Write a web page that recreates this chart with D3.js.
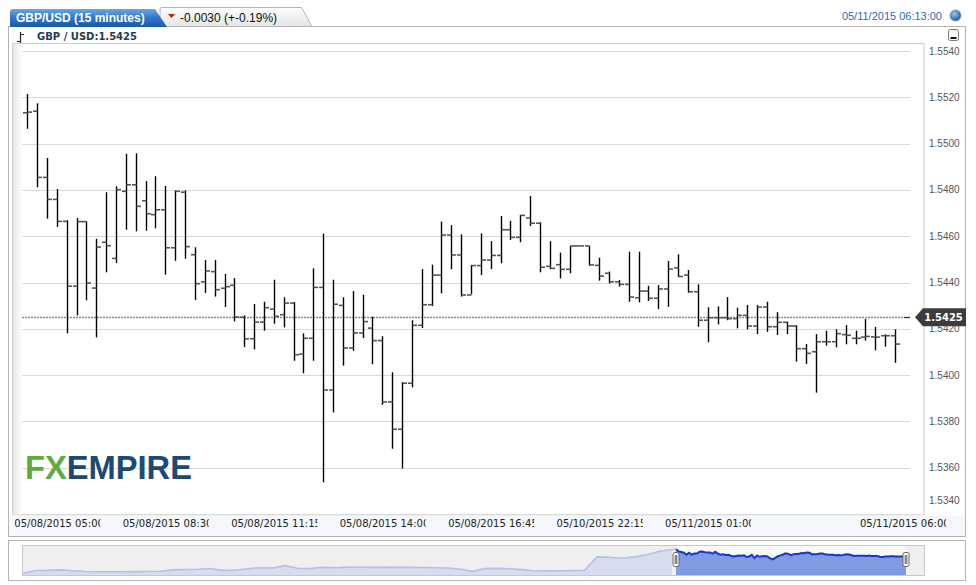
<!DOCTYPE html>
<html><head><meta charset="utf-8">
<script src="https://cdn.jsdelivr.net/npm/d3@7"></script>
<style>html,body{margin:0;padding:0;background:#fff;}svg{display:block;}</style>
</head><body>
<svg id="chart" width="976" height="585"></svg>
<script>
// ---------- data ----------
const symbolTitle = "GBP/USD (15 minutes)";
const changeText = "-0.0030 (+-0.19%)";
const dateText = "05/11/2015 06:13:00";
const seriesLabel = "GBP / USD:1.5425";
const lastPrice = 1.5425;

const opens = [1.55133,1.55140,1.54854,1.54759,1.54664,1.54384,1.54663,1.54376,1.54574,1.54504,
1.54794,1.54822,1.54753,1.54693,1.54714,1.54550,1.54790,1.54520,1.54403,1.54447,
1.54375,1.54388,1.54250,1.54157,1.54229,1.54285,1.54261,1.54311,1.54091,1.54159,
1.54379,1.53936,1.54301,1.54117,1.54182,1.54203,1.54149,1.53884,1.53766,1.53965,
1.54215,1.54304,1.54432,1.54605,1.54519,1.54346,1.54473,1.54497,1.54517,1.54628,
1.54595,1.54679,1.54656,1.54470,1.54477,1.54457,1.54558,1.54558,1.54474,1.54440,
1.54403,1.54392,1.54334,1.54363,1.54332,1.54372,1.54463,1.54432,1.54360,1.54237,
1.54248,1.54248,1.54244,1.54258,1.54212,1.54294,1.54209,1.54228,1.54212,1.54114,
1.54101,1.54144,1.54144,1.54175,1.54159,1.54164,1.54165,1.54170,1.54170];
const highs = [1.55214,1.55174,1.54938,1.54804,1.54669,1.54679,1.54664,1.54589,1.54790,1.54816,
1.54956,1.54958,1.54838,1.54859,1.54817,1.54798,1.54798,1.54552,1.54497,1.54497,
1.54437,1.54419,1.54258,1.54307,1.54317,1.54412,1.54336,1.54316,1.54180,1.54461,
1.54611,1.54412,1.54336,1.54363,1.54347,1.54252,1.54168,1.54012,1.53970,1.54237,
1.54458,1.54477,1.54663,1.54648,1.54608,1.54476,1.54612,1.54579,1.54687,1.54667,
1.54692,1.54774,1.54660,1.54578,1.54529,1.54558,1.54558,1.54558,1.54507,1.54447,
1.54411,1.54533,1.54533,1.54386,1.54389,1.54493,1.54522,1.54454,1.54392,1.54293,
1.54297,1.54337,1.54291,1.54303,1.54303,1.54317,1.54272,1.54231,1.54215,1.54134,
1.54177,1.54192,1.54198,1.54216,1.54192,1.54242,1.54208,1.54176,1.54198];
const lows = [1.55064,1.54811,1.54676,1.54640,1.54180,1.54258,1.54323,1.54163,1.54444,1.54484,
1.54628,1.54621,1.54624,1.54634,1.54434,1.54494,1.54503,1.54324,1.54355,1.54339,
1.54294,1.54232,1.54121,1.54111,1.54192,1.54222,1.54206,1.54062,1.54008,1.54062,
1.53537,1.53839,1.54041,1.54105,1.54160,1.54047,1.53872,1.53682,1.53597,1.53947,
1.54203,1.54298,1.54353,1.54457,1.54339,1.54349,1.54432,1.54458,1.54483,1.54584,
1.54574,1.54644,1.54444,1.54458,1.54418,1.54440,1.54558,1.54473,1.54408,1.54396,
1.54382,1.54317,1.54314,1.54320,1.54285,1.54295,1.54424,1.54356,1.54209,1.54142,
1.54219,1.54237,1.54202,1.54198,1.54177,1.54187,1.54173,1.54177,1.54058,1.54048,
1.53924,1.54127,1.54120,1.54133,1.54133,1.54149,1.54107,1.54123,1.54053];
const closes = [1.55136,1.54854,1.54759,1.54664,1.54384,1.54663,1.54398,1.54553,1.54559,1.54801,
1.54822,1.54729,1.54697,1.54714,1.54550,1.54794,1.54555,1.54395,1.54450,1.54369,
1.54382,1.54251,1.54157,1.54229,1.54291,1.54254,1.54311,1.54088,1.54159,1.54379,
1.53936,1.54306,1.54117,1.54182,1.54231,1.54149,1.53884,1.53766,1.53965,1.54215,
1.54304,1.54432,1.54605,1.54519,1.54346,1.54473,1.54497,1.54517,1.54628,1.54595,
1.54690,1.54656,1.54466,1.54461,1.54457,1.54558,1.54558,1.54476,1.54428,1.54403,
1.54392,1.54337,1.54363,1.54332,1.54372,1.54458,1.54426,1.54360,1.54237,1.54248,
1.54248,1.54244,1.54258,1.54212,1.54294,1.54209,1.54228,1.54212,1.54114,1.54094,
1.54144,1.54144,1.54179,1.54172,1.54159,1.54167,1.54164,1.54170,1.54134];

const yTicks = [1.5340,1.5360,1.5380,1.5400,1.5420,1.5440,1.5460,1.5480,1.5500,1.5520,1.5540];
const xTickIndex = [0,11,22,33,44,55,66,88];
const xTickLabels = ["05/08/2015 05:00","05/08/2015 08:30","05/08/2015 11:15","05/08/2015 14:00",
  "05/08/2015 16:45","05/10/2015 22:15","05/11/2015 01:00","05/11/2015 06:00"];

// navigator history (older closes, before the visible window)
const navHistory = [1.5185,1.5224,1.5226,1.5232,1.5220,1.5210,1.5207,1.5206,1.5207,1.5208,
1.5210,1.5214,1.5232,1.5238,1.5240,1.5250,1.5226,1.5228,1.5248,1.5262,
1.5258,1.5290,1.5255,1.5250,1.5266,1.5262,1.5270,1.5268,1.5266,1.5270,
1.5267,1.5266,1.5264,1.5262,1.5258,1.5245,1.5212,1.5250,1.5253,1.5248,
1.5236,1.5217,1.5218,1.5220,1.5222,1.5226,1.5410,1.5405,1.5392,1.5410,
1.5440,1.5488,1.5512];

const bars = opens.map((o,i)=>({i, o, h:highs[i], l:lows[i], c:closes[i]}));

// ---------- layout ----------
const svg = d3.select("#chart");
const plot = {left:12.5, right:924, top:43.5, bottom:515};
const x = d3.scaleLinear().domain([0, opens.length-1]).range([27.3, 895]);
const y = d3.scaleLinear().domain([1.5340, 1.5540]).range([514, 51]);
const px = v => Math.round(v) + 0.5;

const defs = svg.append("defs");
const g1 = defs.append("linearGradient").attr("id","tabBlue").attr("x1",0).attr("y1",0).attr("x2",0).attr("y2",1);
g1.append("stop").attr("offset","0%").attr("stop-color","#6ba6e6");
g1.append("stop").attr("offset","50%").attr("stop-color","#2f76c8");
g1.append("stop").attr("offset","100%").attr("stop-color","#1a5aa8");
const g2 = defs.append("linearGradient").attr("id","tabGray").attr("x1",0).attr("y1",0).attr("x2",0).attr("y2",1);
g2.append("stop").attr("offset","0%").attr("stop-color","#fdfdfd");
g2.append("stop").attr("offset","100%").attr("stop-color","#e4e4e4");
const g3 = defs.append("linearGradient").attr("id","leftStrip").attr("x1",0).attr("y1",0).attr("x2",1).attr("y2",0);
g3.append("stop").attr("offset","0%").attr("stop-color","#e8e8e8");
g3.append("stop").attr("offset","100%").attr("stop-color","#fbfbfb");
const g4 = defs.append("radialGradient").attr("id","ball").attr("cx","40%").attr("cy","35%").attr("r","60%");
g4.append("stop").attr("offset","0%").attr("stop-color","#9cc8f5");
g4.append("stop").attr("offset","100%").attr("stop-color","#1c5fb3");
defs.append("clipPath").attr("id","plotClip").append("rect")
  .attr("x",13).attr("y",44).attr("width",910).attr("height",471);

// outer frame
svg.append("rect").attr("x",8.5).attr("y",26.5).attr("width",957).attr("height",510)
  .attr("fill","#fff").attr("stroke","#b4b4b4");

// tabs
svg.append("path").attr("d","M160,26.5 L160,9 Q160,7.5 162,7.5 L301.5,7.5 L312,26.5 Z")
  .attr("fill","url(#tabGray)").attr("stroke","#b4b4b4");
svg.append("path").attr("d","M10,27 L10,12 Q10,9 13,9 L155,9 L167,27 Z").attr("fill","url(#tabBlue)");
svg.append("text").attr("x",16).attr("y",22).attr("fill","#fff").attr("font-family","Liberation Sans, Arial, sans-serif")
  .attr("font-size",12).attr("font-weight","bold").text(symbolTitle);
svg.append("path").attr("d","M168,14 L175,14 L171.5,18 Z").attr("fill","#d21010");
svg.append("text").attr("x",180).attr("y",22).attr("fill","#111").attr("font-family","Liberation Sans, Arial, sans-serif")
  .attr("font-size",12).text(changeText);

// date + ball
svg.append("text").attr("x",942).attr("y",20).attr("text-anchor","end").attr("fill","#2b6cb8")
  .attr("font-family","Liberation Sans, Arial, sans-serif").attr("font-size",11).text(dateText);
svg.append("circle").attr("cx",955.5).attr("cy",15.5).attr("r",5.5).attr("fill","url(#ball)").attr("stroke","#8a9bb0").attr("stroke-width",1);

// minimize button
svg.append("rect").attr("x",948.5).attr("y",29.5).attr("width",10).attr("height",11).attr("rx",2)
  .attr("fill","#fafafa").attr("stroke","#777");
svg.append("rect").attr("x",950.5).attr("y",37).attr("width",6).attr("height",2).attr("fill","#111");

// series label + icon
svg.append("path").attr("d","M20.5,32 L20.5,43 M17,41.5 L20.5,41.5 M20.5,34.5 L24,34.5").attr("stroke","#222").attr("stroke-width",1.2).attr("fill","none");
svg.append("text").attr("x",37).attr("y",40).attr("fill","#1f3b4d").attr("font-family","DejaVu Sans, Verdana, sans-serif")
  .attr("font-size",10).attr("font-weight","bold").text(seriesLabel);

// plot panel
svg.append("rect").attr("x",plot.left).attr("y",plot.top).attr("width",plot.right-plot.left).attr("height",plot.bottom-plot.top)
  .attr("fill","#fff").attr("stroke","#cdcdcd");
svg.append("rect").attr("x",13).attr("y",44).attr("width",8).attr("height",470).attr("fill","url(#leftStrip)");

// x label band
svg.append("rect").attr("x",9).attr("y",515.5).attr("width",956).attr("height",20).attr("fill","#f4f7fb");

// gridlines
svg.append("g").selectAll("line").data(yTicks).join("line")
  .attr("x1",22).attr("x2",910).attr("y1",d=>px(y(d))).attr("y2",d=>px(y(d)))
  .attr("stroke","#dadada").attr("stroke-width",1);

// y labels
svg.append("g").selectAll("text").data(yTicks).join("text")
  .attr("x",929).attr("y",d=>Math.min(y(d)+3.5, 504))
  .attr("fill","#555").attr("font-family","Liberation Sans, Arial, sans-serif").attr("font-size",10)
  .text(d=>d.toFixed(4));

// logo
const logo = svg.append("text").attr("x",25).attr("y",479).attr("font-family","Liberation Sans, Arial, sans-serif")
  .attr("font-size",33).attr("font-weight","bold").attr("textLength",167).attr("lengthAdjust","spacingAndGlyphs");
logo.append("tspan").attr("fill","#5fab3e").text("FX");
logo.append("tspan").attr("fill","#1d4a72").text("EMPIRE");

// current price dotted line
svg.append("line").attr("x1",22).attr("x2",904).attr("y1",px(y(lastPrice))).attr("y2",px(y(lastPrice)))
  .attr("stroke","#8a8a8a").attr("stroke-width",1.3).attr("stroke-dasharray","2,1");
svg.append("line").attr("x1",904).attr("x2",910).attr("y1",px(y(lastPrice))).attr("y2",px(y(lastPrice)))
  .attr("stroke","#333").attr("stroke-width",1.3);

// OHLC bars
const gb = svg.append("g").attr("clip-path","url(#plotClip)");
gb.selectAll("line.hl").data(bars).join("line").attr("class","hl")
  .attr("x1",d=>px(x(d.i))).attr("x2",d=>px(x(d.i)))
  .attr("y1",d=>y(d.h)).attr("y2",d=>y(d.l))
  .attr("stroke","#000").attr("stroke-width",1.4);
gb.selectAll("line.op").data(bars).join("line").attr("class","op")
  .attr("x1",d=>px(x(d.i))-4.5).attr("x2",d=>px(x(d.i)))
  .attr("y1",d=>y(d.o)).attr("y2",d=>y(d.o))
  .attr("stroke","#555").attr("stroke-width",1.6);
gb.selectAll("line.cl").data(bars).join("line").attr("class","cl")
  .attr("x1",d=>px(x(d.i))).attr("x2",d=>px(x(d.i))+4.5)
  .attr("y1",d=>y(d.c)).attr("y2",d=>y(d.c))
  .attr("stroke","#555").attr("stroke-width",1.6);

// price marker
const my = y(lastPrice);
svg.append("path").attr("d",`M915,${my} L923,${my-9} L966,${my-9} L966,${my+9} L923,${my+9} Z`).attr("fill","#3c3c3c");
svg.append("text").attr("x",943.5).attr("y",my+4).attr("text-anchor","middle").attr("fill","#fff")
  .attr("font-family","DejaVu Sans, Verdana, sans-serif").attr("font-size",10).attr("font-weight","bold")
  .text(lastPrice.toFixed(4));

// x labels (clipped like the original)
const xl = svg.append("g");
xTickIndex.forEach((ix,k)=>{
  const left = Math.min(x(ix)-13, 949-89);
  const id = "xlc"+k;
  defs.append("clipPath").attr("id",id).append("rect").attr("x",left).attr("y",515).attr("width",86).attr("height",18);
  xl.append("text").attr("x",left).attr("y",527).attr("clip-path",`url(#${id})`)
    .attr("fill","#222").attr("font-family","DejaVu Sans, Verdana, sans-serif").attr("font-size",10)
    .text(xTickLabels[k]);
});

// ---------- navigator ----------
svg.append("rect").attr("x",8.5).attr("y",540.5).attr("width",957).attr("height",40).attr("fill","#fff").attr("stroke","#b4b4b4");
svg.append("rect").attr("x",22.5).attr("y",545.5).attr("width",902).attr("height",30).attr("fill","#efefef").attr("stroke","#c8c8c8");
const nY = d3.scaleLinear().domain([1.5162, 1.5525]).range([575, 548.5]);
const nHX = d3.scaleLinear().domain([0, navHistory.length-1]).range([23, 672]);
const nMX = d3.scaleLinear().domain([0, closes.length-1]).range([676, 906]);
svg.append("path").datum(navHistory)
  .attr("d", d3.area().x((d,i)=>nHX(i)).y0(575).y1(d=>nY(d)))
  .attr("fill","#d7ddee");
svg.append("path").datum(navHistory)
  .attr("d", d3.line().x((d,i)=>nHX(i)).y(d=>nY(d)))
  .attr("fill","none").attr("stroke","#b5c0e6").attr("stroke-width",1.6);
svg.append("path").datum([navHistory[navHistory.length-1], closes[0]])
  .attr("d", d3.line().x((d,i)=> i===0 ? nHX(navHistory.length-1) : nMX(0)).y(d=>nY(d)))
  .attr("fill","none").attr("stroke","#b5c0e6").attr("stroke-width",1.6);
svg.append("rect").attr("x",nMX(0)).attr("y",546).attr("width",nMX(closes.length-1)-nMX(0)).attr("height",29).attr("fill","#f8f9fd");
svg.append("path").datum(closes)
  .attr("d", d3.area().x((d,i)=>nMX(i)).y0(575).y1(d=>nY(d)))
  .attr("fill","#7f9be2");
svg.append("path").datum(closes)
  .attr("d", d3.line().x((d,i)=>nMX(i)).y(d=>nY(d)))
  .attr("fill","none").attr("stroke","#1737c4").attr("stroke-width",2);
[nMX(0), nMX(closes.length-1)].forEach(hx=>{
  svg.append("rect").attr("x",hx-3).attr("y",552.5).attr("width",6).attr("height",14).attr("rx",2)
    .attr("fill","#fff").attr("stroke","#666");
  svg.append("line").attr("x1",hx-0.8).attr("x2",hx-0.8).attr("y1",555).attr("y2",564).attr("stroke","#555");
  svg.append("line").attr("x1",hx+0.8).attr("x2",hx+0.8).attr("y1",555).attr("y2",564).attr("stroke","#555");
});
</script>
</body></html>
